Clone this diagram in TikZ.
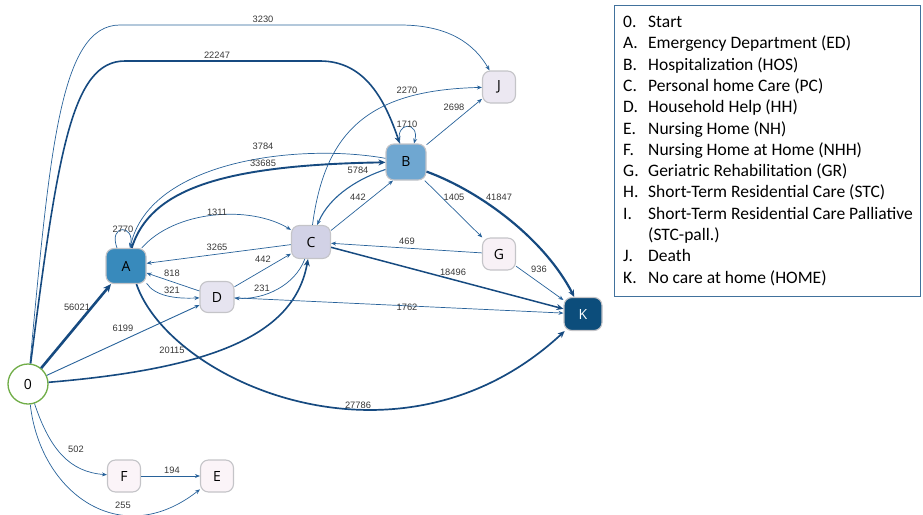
\documentclass[tikz,border=0pt]{standalone}
\usepackage{fontspec}
\setmainfont{Carlito}
\newfontfamily\lblfont{Liberation Sans}
\newfontfamily\nodefont{Open Sans}
\usetikzlibrary{arrows.meta}
\definecolor{edgecol}{RGB}{40,98,154}
\definecolor{thickcol}{RGB}{22,74,128}
\definecolor{lblcol}{RGB}{55,55,55}
\definecolor{nodeborder}{RGB}{196,196,200}
\definecolor{legcol}{RGB}{65,113,156}
\definecolor{fillA}{RGB}{56,138,188}
\definecolor{fillB}{RGB}{111,167,209}
\definecolor{fillC}{RGB}{210,210,230}
\definecolor{fillD}{RGB}{230,228,240}
\definecolor{fillJ}{RGB}{236,232,242}
\definecolor{fillG}{RGB}{248,241,246}
\definecolor{fillF}{RGB}{251,244,248}
\definecolor{fillK}{RGB}{12,77,123}
\definecolor{startgreen}{RGB}{112,173,71}
\begin{document}
\begin{tikzpicture}[x=1pt,y=1pt,
  st/.style={draw=nodeborder, line width=1.1pt, rounded corners=8pt, inner sep=0pt,
    font=\nodefont\fontsize{14}{14}\selectfont},
  conn/.style={draw=edgecol, line width=0.7pt, -{Stealth[length=5pt,width=4pt]}},
  thk/.style={draw=thickcol, -{Stealth[length=7pt,width=6pt]}},
  lbl/.style={font=\lblfont\fontsize{9.3}{9.3}\selectfont, text=lblcol, inner sep=0pt},
  leg/.style={font=\fontsize{17.5}{21}\selectfont, inner sep=0pt, anchor=base west}]
\useasboundingbox (0,0) rectangle (923,-514);

% nodes
\node[circle, draw=startgreen, line width=1.3pt, fill=white, minimum size=40pt, inner sep=0pt,
  font=\nodefont\fontsize{14}{14}\selectfont] (n0) at (28,-384) {0};
\node[st, fill=fillA, minimum width=40pt, minimum height=35pt] (A) at (126,-266) {A};
\node[st, fill=fillB, minimum width=40pt, minimum height=36pt] (B) at (406,-162) {B};
\node[st, fill=fillC, minimum width=39pt, minimum height=33pt] (C) at (311,-242) {C};
\node[st, fill=fillD, minimum width=34pt, minimum height=31pt] (D) at (217,-297) {D};
\node[st, fill=fillJ, minimum width=33pt, minimum height=32pt] (J) at (499,-87) {J};
\node[st, fill=fillG, minimum width=33pt, minimum height=32pt] (G) at (499,-254) {G};
\node[st, fill=fillK, text=white, minimum width=38pt, minimum height=33pt] (K) at (583,-314) {K};
\node[st, fill=fillF, minimum width=33pt, minimum height=32pt] (F) at (124,-476) {F};
\node[st, fill=fillF, minimum width=33pt, minimum height=32pt] (E) at (217,-476) {E};

% connectors
\draw[conn] (n0) .. controls (50,-150) and (60,-25) .. (120,-25) -- (400,-25)
  .. controls (450,-25) and (475,-45) .. (J);
\draw[conn, thk, line width=1.6pt] (n0) .. controls (58,-150) and (72,-61) .. (125,-61) -- (320,-61)
  .. controls (365,-61) and (385,-100) .. (B);
\draw[conn, thk, line width=2.6pt, -{Stealth[length=8pt,width=7pt]}] (n0) -- (A);
\draw[conn, line width=0.9pt] (n0) -- (D);
\draw[conn, thk, line width=1.6pt] (n0) .. controls (220,-368) and (295,-332) .. (C);
\draw[conn] (n0) .. controls (50,-450) and (70,-472) .. (F);
\draw[conn] (n0) .. controls (40,-492) and (120,-552) .. (E);
\draw[conn] (F) -- (E);
\draw[conn] ([xshift=-9pt]A.north) .. controls (108,-224) and (135,-224) .. ([xshift=4pt]A.north);
\draw[conn] (B) .. controls (300,-143) and (150,-160) .. (A);
\draw[conn, thk, line width=1.9pt] (A) .. controls (150,-190) and (220,-165) .. (B);
\draw[conn] (A) .. controls (175,-210) and (250,-205) .. (C);
\draw[conn] (C) -- (A);
\draw[conn] (D) -- (A);
\draw[conn] (A.-40) .. controls (155,-296) and (175,-299) .. (D);
\draw[conn] (D) -- (C);
\draw[conn] (C.250) .. controls (295,-285) and (265,-300) .. (D);
\draw[conn] (D) -- (K);
\draw[conn] (C.30) -- (B.235);
\draw[conn, line width=1.1pt] (B.200) .. controls (360,-178) and (330,-195) .. (C.70);
\draw[conn] (C.85) .. controls (325,-130) and (370,-90) .. (J);
\draw[conn] (B.40) -- (J.215);
\draw[conn] ([xshift=-6pt]B.north) .. controls (394,-121) and (420,-121) .. ([xshift=8pt]B.north);
\draw[conn] (B) -- (G);
\draw[conn, thk, line width=2.2pt] (B.-25) .. controls (482,-192) and (545,-240) .. (K);
\draw[conn] (G) -- (C);
\draw[conn, thk, line width=1.5pt] (C) -- (K);
\draw[conn] (G) -- (K);
\draw[conn, thk, line width=1.7pt] (A.-60) .. controls (170,-382) and (400,-484) .. (K);

% edge labels
\node[lbl] (L3230) at (263,-19) {3230};
\node[lbl] (L22247) at (217,-55) {22247};
\node[lbl] (L56021) at (77,-307) {56021};
\node[lbl] (L6199) at (123,-328) {6199};
\node[lbl] (L20115) at (172,-350) {20115};
\node[lbl] (L502) at (76,-449) {502};
\node[lbl] (L255) at (123,-505) {255};
\node[lbl] (L194) at (172,-470) {194};
\node[lbl] (L2770) at (123,-229) {2770};
\node[lbl] (L3784) at (263,-146) {3784};
\node[lbl] (L33685) at (263,-163) {33685};
\node[lbl] (L1311) at (217,-212) {1311};
\node[lbl] (L3265) at (217,-247) {3265};
\node[lbl] (L818) at (172,-273) {818};
\node[lbl] (L321) at (172,-290) {321};
\node[lbl] (L442a) at (263,-259) {442};
\node[lbl] (L231) at (262,-288) {231};
\node[lbl] (L1762) at (407,-307) {1762};
\node[lbl] (L442b) at (358,-197) {442};
\node[lbl] (L5784) at (358,-170) {5784};
\node[lbl] (L2270) at (407,-90) {2270};
\node[lbl] (L2698) at (454,-107) {2698};
\node[lbl] (L1710) at (407,-124) {1710};
\node[lbl] (L1405) at (454,-197) {1405};
\node[lbl] (L41847) at (499,-197) {41847};
\node[lbl] (L469) at (407,-241) {469};
\node[lbl] (L18496) at (453,-272) {18496};
\node[lbl] (L936) at (539,-269) {936};
\node[lbl] (L27786) at (358,-405) {27786};

% legend
\node[draw=legcol, line width=1.2pt, minimum width=306pt, minimum height=291pt,
  inner sep=0pt, anchor=north west] (legbox) at (614,-5) {};
\foreach \k/\t [count=\i from 0] in {0./Start, A./Emergency Department (ED),
  B./Hospitalization (HOS), C./Personal home Care (PC), D./Household Help (HH),
  E./Nursing Home (NH), F./Nursing Home at Home (NHH), G./Geriatric Rehabilitation (GR),
  H./Short-Term Residential Care (STC), I./Short-Term Residential Care Palliative,
  {}/(STC-pall.), J./Death, K./No care at home (HOME)} {
  \node[leg] (legk\i) at (623,{-27.5-21.3*\i}) {\k};
  \node[leg] (legt\i) at (648,{-27.5-21.3*\i}) {\t};
}
\end{tikzpicture}
\end{document}
